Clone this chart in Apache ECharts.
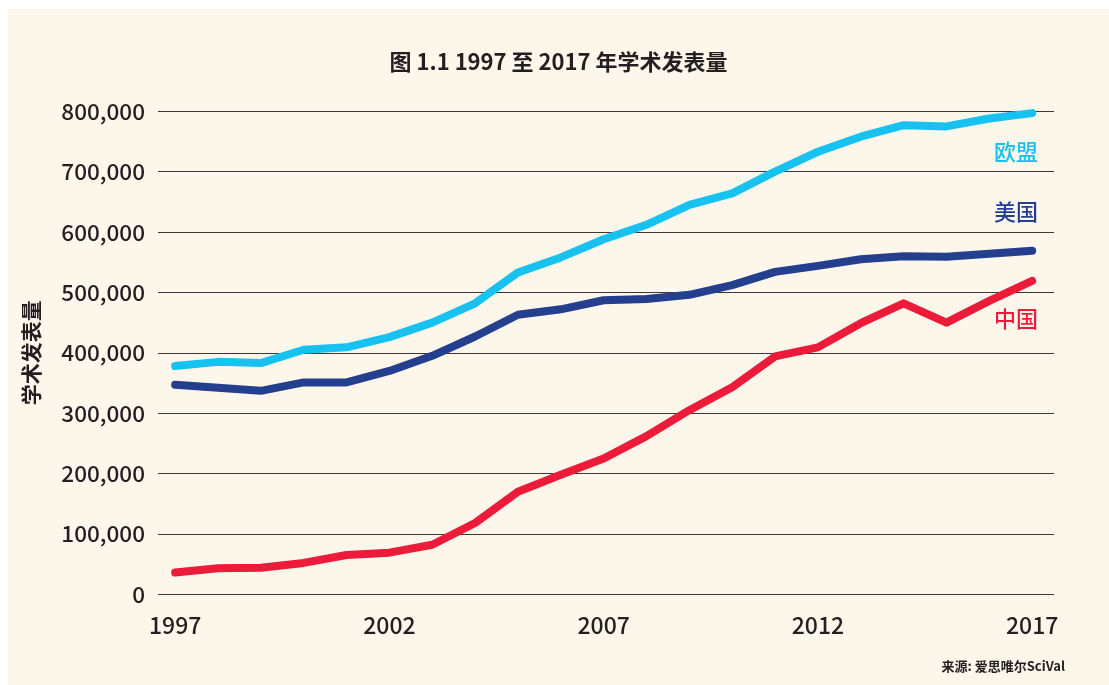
<!DOCTYPE html>
<html>
<head>
<meta charset="utf-8">
<script src="https://cdn.jsdelivr.net/npm/echarts@6/dist/echarts.min.js"></script>
<style>
html,body{margin:0;padding:0;background:#ffffff;}
#chart{position:absolute;left:8px;top:9px;width:1101px;height:676px;}
</style>
</head>
<body>
<div id="chart"></div>
<script>
const years = [1997,1998,1999,2000,2001,2002,2003,2004,2005,2006,2007,2008,2009,2010,2011,2012,2013,2014,2015,2016,2017];
const euValues = [378000,385000,383000,405000,409000,426000,450000,482000,533000,558000,588000,612000,645000,664000,700000,733000,758000,777000,775000,788000,797000];
const usValues = [347000,342000,337000,351000,351000,370000,395000,427000,463000,472000,487000,489000,496000,512000,534000,544000,555000,560000,559000,564000,569000];
const cnValues = [36000,43000,44000,52000,65000,69000,82000,118000,170000,198000,225000,262000,305000,343000,394000,409000,449000,482000,450000,486000,519000];
const xTickLabels = [1997,2002,2007,2012,2017];
const seriesNames = ['欧盟','美国','中国'];
const titleText = '图 1.1 1997 至 2017 年学术发表量';
const yAxisName = '学术发表量';
const sourceText = '来源: 爱思唯尔SciVal';

const FONT = '"Noto Sans CJK SC", "Noto Sans", sans-serif';
const colors = ['#17c1f0','#253f8f','#ec1b3a'];
const chart = echarts.init(document.getElementById('chart'));
function pairs(vals){ return years.map((y,i)=>[y, vals[i]]); }
chart.setOption({
  backgroundColor:'#fdf6eb',
  animation:false,
  title:{
    text:titleText, left:'center', top:37,
    textStyle:{fontFamily:FONT,fontSize:22,fontWeight:'bold',color:'#231f20'}
  },
  grid:{left:150,right:55,top:102.3,bottom:90.7,containLabel:false},
  xAxis:{
    type:'value', min:1996.6, max:2017.51,
    axisLine:{show:false}, axisTick:{show:false}, splitLine:{show:false},
    axisLabel:{customValues:xTickLabels, fontFamily:FONT, fontSize:23, fontWeight:500, color:'#231f20', margin:19,
      formatter:v=>String(v)}
  },
  yAxis:{
    type:'value', min:0, max:800000, interval:100000,
    name:yAxisName, nameLocation:'middle', nameGap:116, nameRotate:90,
    nameTextStyle:{fontFamily:FONT,fontSize:21,fontWeight:'bold',color:'#231f20'},
    axisLine:{show:false}, axisTick:{show:false},
    splitLine:{lineStyle:{color:'#3b3836',width:1}},
    axisLabel:{fontFamily:FONT,fontSize:22.5,fontWeight:500,color:'#231f20',margin:13,
      formatter:v=>v.toLocaleString('en-US')}
  },
  series:[
    {name:seriesNames[0],type:'line',data:pairs(euValues),symbol:'none',
      lineStyle:{color:colors[0],width:8,cap:'round',join:'round'}},
    {name:seriesNames[1],type:'line',data:pairs(usValues),symbol:'none',
      lineStyle:{color:colors[1],width:8,cap:'round',join:'round'}},
    {name:seriesNames[2],type:'line',data:pairs(cnValues),symbol:'none',
      lineStyle:{color:colors[2],width:8,cap:'round',join:'round'}}
  ],
  graphic:[
    {type:'text',right:71,top:153-9-12,style:{text:seriesNames[0],fill:colors[0],font:'500 22px '+FONT}},
    {type:'text',right:71,top:213-9-12,style:{text:seriesNames[1],fill:colors[1],font:'500 22px '+FONT}},
    {type:'text',right:71,top:320-9-12,style:{text:seriesNames[2],fill:colors[2],font:'500 22px '+FONT}},
    {type:'text',right:1109-1065,top:668-9-8,style:{text:sourceText,fill:'#231f20',font:'bold 13px '+FONT}}
  ]
});
</script>
</body>
</html>
